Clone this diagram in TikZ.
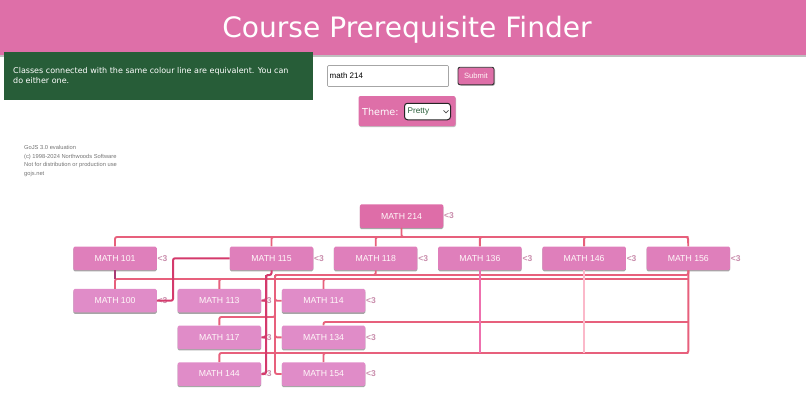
\documentclass[tikz,border=0pt]{standalone}
\usepackage{fontspec}
\setmainfont{Liberation Sans}
\newfontfamily\verdanaish{DejaVu Sans}
\usetikzlibrary{shadows}
\definecolor{headerpink}{HTML}{DE6FA8}
\definecolor{toppink}{HTML}{DE6DA8}
\definecolor{midpink}{HTML}{DF7FBB}
\definecolor{lowpink}{HTML}{E08CC8}
\definecolor{boxgreen}{HTML}{275D38}
\definecolor{linecoral}{HTML}{E7607C}
\definecolor{crimson}{HTML}{D43A6C}
\definecolor{stubdark}{HTML}{A83A74}
\definecolor{hotpink}{HTML}{EE70AE}
\definecolor{palepink}{HTML}{FBB9CA}
\definecolor{heartcol}{HTML}{C98DAC}

\begin{document}
\begin{tikzpicture}[x=1pt, y=-1pt, node distance=104.2pt,
	main/.style = {minimum width = 83.5pt, minimum height = 23.5pt, inner sep = 0pt, rounded corners = 1.5pt, text = white!90!pink, font = \fontsize{8.7}{11}\selectfont, drop shadow = {shadow xshift = 0pt, shadow yshift = -1.3pt, fill = black, opacity = .35}},
	heart/.style = {anchor = west, inner sep = 0.5pt, text = heartcol, font = \fontsize{8.5}{10}\selectfont\bfseries},
	line/.style = {draw = linecoral, line width = 1.9pt, rounded corners = 2pt},
	crim/.style = {draw = crimson, line width = 2pt, rounded corners = 2pt}]
	\useasboundingbox (0,0) rectangle (806,407);

	% page furniture
	\node[fill = headerpink, minimum width = 806pt, minimum height = 55pt, inner sep = 0pt, drop shadow = {shadow xshift = 0pt, shadow yshift = -1.5pt, fill = black, opacity = .25}] (header) at (403,27.5) {};
	\node[text = white, font = \verdanaish\fontsize{28.1}{34}\selectfont] (title) at (407,30) {Course Prerequisite Finder};
	\node[fill = boxgreen, minimum width = 309pt, minimum height = 48pt, inner sep = 0pt] (note) at (158.5,76) {};
	\node[anchor = north west, align = left, inner sep = 0pt, text = white, font = \verdanaish\fontsize{8}{10}\selectfont] (notetext) at (13,67) {Classes connected with the same colour line are equivalent. You can\\do either one.};
	\node[draw = black!35, line width = 0.7pt, fill = white, minimum width = 121pt, minimum height = 21pt, inner sep = 0pt, rounded corners = 1pt] (input) at (388,76) {};
	\node[anchor = west, inner sep = 0pt, font = \fontsize{8}{10}\selectfont] (inputtext) at (329.5,76) {math 214};
	\node[fill = headerpink, draw = black!80, line width = 0.9pt, minimum width = 36pt, minimum height = 17.5pt, inner sep = 0pt, rounded corners = 2pt, text = white!85!pink, font = \fontsize{7.6}{9}\selectfont, drop shadow = {shadow xshift = 1pt, shadow yshift = -1pt, fill = black, opacity = .3}] (submit) at (476,76) {Submit};
	\node[fill = headerpink, minimum width = 97pt, minimum height = 30pt, inner sep = 0pt, rounded corners = 2pt, drop shadow = {shadow xshift = 0.5pt, shadow yshift = -1pt, fill = black, opacity = .25}] (theme) at (407,111) {};
	\node[anchor = west, inner sep = 0pt, text = white, font = \verdanaish\fontsize{9.6}{12}\selectfont] (themetext) at (362,111.5) {Theme:};
	\node[fill = white, draw = black!85, line width = 1pt, minimum width = 46pt, minimum height = 16.5pt, inner sep = 0pt, rounded corners = 3pt] (select) at (427.5,111.5) {};
	\node[anchor = west, inner sep = 0pt, text = boxgreen, font = \fontsize{8.2}{10}\selectfont] (selecttext) at (407.5,112) {Pretty};
	\coordinate (chevl) at (443.5,110.3);
	\coordinate (chevm) at (446,112.8);
	\coordinate (chevr) at (448.5,110.3);
	\draw[draw = black!70, line width = 0.7pt] (chevl) -- (chevm) -- (chevr);
	\node[anchor = north west, align = left, inner sep = 0pt, text = black!55, font = \fontsize{5.75}{8.7}\selectfont] (watermark) at (24,145.2) {GoJS 3.0 evaluation\\(c) 1998-2024 Northwoods Software\\Not for distribution or production use\\gojs.net};

	% course nodes
	\node[main, fill = toppink] (math214) at (401.5,216) {MATH 214};
	\node[main, fill = midpink] (math115) at (271.5,258.3) {MATH 115};
	\node[main, fill = midpink] (math101) at (115,258.3) {MATH 101};
	\node[main, fill = midpink] (math118) [right of = math115] {MATH 118};
	\node[main, fill = midpink] (math136) [right of = math118] {MATH 136};
	\node[main, fill = midpink] (math146) [right of = math136] {MATH 146};
	\node[main, fill = midpink] (math156) [right of = math146] {MATH 156};
	\node[main, fill = lowpink] (math100) at (115,300.7) {MATH 100};
	\node[main, fill = lowpink] (math113) at (219.3,300.7) {MATH 113};
	\node[main, fill = lowpink] (math114) [right of = math113] {MATH 114};
	\node[main, fill = lowpink] (math117) at (219.3,337.3) {MATH 117};
	\node[main, fill = lowpink] (math134) [right of = math117] {MATH 134};
	\node[main, fill = lowpink] (math144) at (219.3,374) {MATH 144};
	\node[main, fill = lowpink] (math154) [right of = math144] {MATH 154};

	\foreach \course in {214,101,115,118,136,146,156,100,113,114,117,134,144,154}
		\node[heart] (heart\course) at (math\course.east) {<3};

	% bus lines
	\coordinate (busa) at (688,237);
	\coordinate (busb) at (688,279);
	\coordinate (busd) at (688,322);
	\coordinate (buse) at (688,353);
	\coordinate (busf) at (275,317);
	\coordinate (leftc) at (275,275);
	\coordinate (leftd) at (266,275);
	\coordinate (jog) at (173,280);

	\draw[line] (math101.north) |- (busa) -- (math156.north);
	\draw[line] (math214.south) |- (busa);
	\foreach \course in {115,118,136,146}
		\draw[line] (math\course.north) |- (busa);

	\draw[line] (math156.south) |- (buse);
	\draw[line] (math100.north) |- (busb);
	\draw[line] (math113.north) |- (busb);
	\draw[line] (math114.north) |- (busb);
	\draw[stubdark, line width = 2pt] (math101.south) -- (math101.south |- busb);

	\draw[line] (math118.south) |- (leftc) |- (math154.west);
	\draw[line] (leftc) -| (math156.south);
	\draw[line] (math114.west) -| (leftc);
	\draw[line] (math134.west) -| (leftc);
	\draw[line] (math117.north) |- (busf) -- (leftc);

	\draw[line] (math134.north) |- (busd);
	\draw[line] (math144.north) |- (buse);
	\draw[line] (math154.north) |- (buse);

	\draw[draw = hotpink, line width = 2pt] (math136.south) -- (math136.south |- buse);
	\draw[draw = palepink, line width = 2pt] (math146.south) -- (math146.south |- buse);

	\draw[crim] (math115.south) |- (leftd) |- (math144.east);
	\draw[crim] (math113.east) -| (leftd);
	\draw[crim] (math117.east) -| (leftd);
	\draw[crim] (math115.west) -| (jog) |- (math100.east);
\end{tikzpicture}
\end{document}
